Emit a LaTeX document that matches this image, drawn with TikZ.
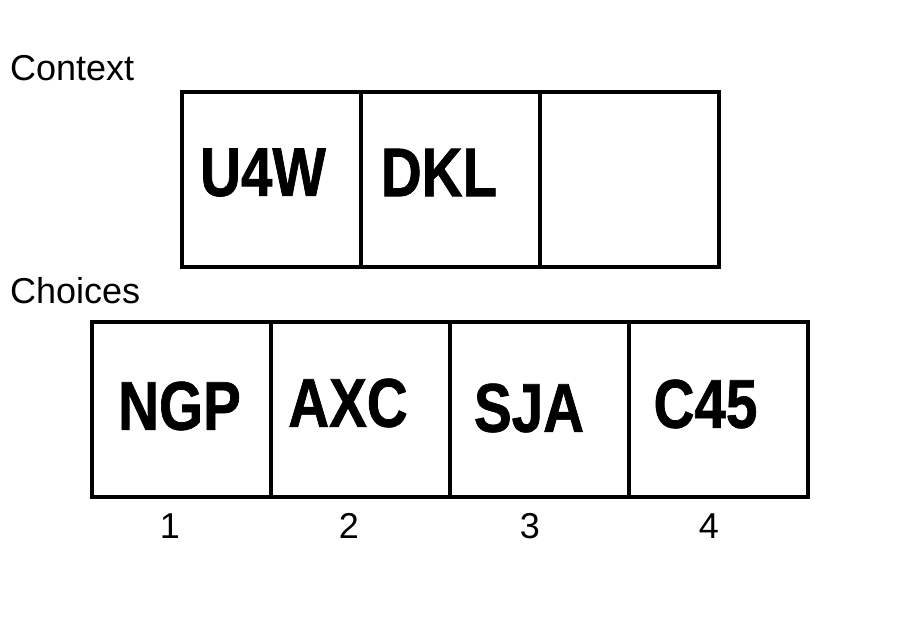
\documentclass[tikz,border=0pt]{standalone}
\usepackage{fontspec}
\setmainfont{Liberation Sans}
\newfontfamily\cellfont[FakeStretch=0.82,FakeBold=1]{Liberation Sans}
\usepackage{tikz}
\usetikzlibrary{positioning}

\begin{document}
\begin{tikzpicture}[x=1pt,y=-1pt,node distance=179pt,
			cell/.style={rectangle,draw,line width=4pt,inner sep=0pt,outer sep=0pt,
				minimum width=179pt,minimum height=175pt},
			tag/.style={inner sep=0pt,font=\cellfont\bfseries\fontsize{69}{69}\selectfont},
			caption/.style={inner sep=0pt,font=\fontsize{36}{36}\selectfont}]
			\useasboundingbox (0,0) rectangle (900,640);
			
			% context row
			\node[cell] (A) at (271.5,179.5) {};
			\node[cell] (B) [right of=A] {};
			\node[cell] (C) [right of=B] {};
			
			% choices row
			\node[cell] (D) at (181.5,409.5) {};
			\node[cell] (E) [right of=D] {};
			\node[cell] (F) [right of=E] {};
			\node[cell] (G) [right of=F] {};
			
			\node[tag] (tA) at (263,172.5) {U4W};
			\node[tag] (tB) at (439,172.5) {DKL};
			
			\node[tag] (tD) at (179.5,406) {NGP};
			\node[tag] (tE) at (348,403) {AXC};
			\node[tag] (tF) at (529,408) {SJA};
			\node[tag] (tG) at (705.5,404) {C45};
			
			\node[caption,anchor=base west] (context) at (10,80) {Context};
			\node[caption,anchor=base west] (choices) at (10,303) {Choices};
			
			\node[caption,anchor=base] (n1) at (170,538) {1};
			\node[caption,anchor=base] (n2) at (349,538) {2};
			\node[caption,anchor=base] (n3) at (530,538) {3};
			\node[caption,anchor=base] (n4) at (709,538) {4};
		\end{tikzpicture}
\end{document}
